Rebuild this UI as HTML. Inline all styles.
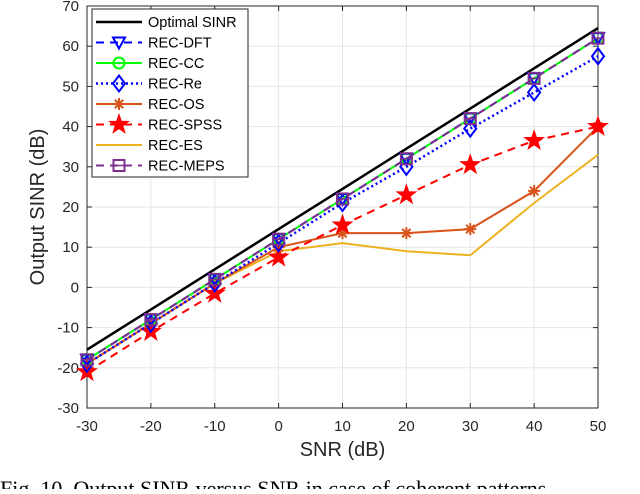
<!DOCTYPE html>
<html><head><meta charset="utf-8"><style>
body{margin:0;background:#fff;width:640px;height:489px;overflow:hidden}
svg{font-family:"Liberation Sans",sans-serif}
</style></head><body>
<svg id="c" width="640" height="489"></svg>
<script>
const xVals=[-30,-20,-10,0,10,20,30,40,50];
const xTicks=[-30,-20,-10,0,10,20,30,40,50];
const yTicks=[-30,-20,-10,0,10,20,30,40,50,60,70];
const optimal=[-15.5,-5.5,4.5,14.5,24.5,34.5,44.5,54.5,64.5];
const recDft=[-18,-8,2,12,22,32,42,52,62];
const recCc=[-18,-8,2,12,22,32,42,52,62];
const recRe=[-19,-9,1,11,21,30,39.5,48.5,57.5];
const recOs=[-19,-9,1,10,13.5,13.5,14.5,24,40];
const recSpss=[-21,-11,-1.5,7.5,15.5,23,30.5,36.5,40];
const recEs=[-19,-9,1,9,11,9,8,21,33];
const recMeps=[-18,-8,2,12,22,32,42,52,62];
const seriesNames=["Optimal SINR","REC-DFT","REC-CC","REC-Re","REC-OS","REC-SPSS","REC-ES","REC-MEPS"];

const L=87,R=598,T=6,B=408;
const sx=v=>L+(v+30)/80*(R-L);
const sy=v=>B-(v+30)/100*(B-T);
const svg=document.getElementById('c');
const NS='http://www.w3.org/2000/svg';
function mk(t,a,p){const e=document.createElementNS(NS,t);for(const k in a)e.setAttribute(k,a[k]);(p||svg).appendChild(e);return e;}

xTicks.forEach(v=>{
 const g=mk('line',{x1:sx(v),x2:sx(v),y1:T,y2:B,stroke:'#e6e6e6'});
 
 const t=mk('text',{x:sx(v),y:B+23,'text-anchor':'middle','font-size':15,fill:'#262626'});t.textContent=v;
 
 mk('line',{x1:sx(v),x2:sx(v),y1:B,y2:B-5,stroke:'#262626'});
 mk('line',{x1:sx(v),x2:sx(v),y1:T,y2:T+5,stroke:'#262626'});
});
yTicks.forEach(v=>{
 const g=mk('line',{x1:L,x2:R,y1:sy(v),y2:sy(v),stroke:'#e6e6e6'});
 
 const t=mk('text',{x:L-8,y:sy(v)+5,'text-anchor':'end','font-size':15,fill:'#262626'});t.textContent=v;
 
 mk('line',{x1:L,x2:L+5,y1:sy(v),y2:sy(v),stroke:'#262626'});
 mk('line',{x1:R,x2:R-5,y1:sy(v),y2:sy(v),stroke:'#262626'});
});
const fr=mk('rect',{x:L,y:T,width:R-L,height:B-T,fill:'none',stroke:'#262626'});


function marker(type,x,y,col,g){
 if(type==='tri')mk('path',{d:`M${x-6},${y-5}L${x+6},${y-5}L${x},${y+6}Z`,fill:'none',stroke:col,'stroke-width':2},g);
 if(type==='circ')mk('circle',{cx:x,cy:y,r:5.5,fill:'none',stroke:col,'stroke-width':2},g);
 if(type==='dia')mk('path',{d:`M${x},${y-8}L${x+6},${y}L${x},${y+8}L${x-6},${y}Z`,fill:'none',stroke:col,'stroke-width':2},g);
 if(type==='ast'){for(let a=0;a<4;a++){const r=a*Math.PI/4,dx=6*Math.cos(r),dy=6*Math.sin(r);mk('line',{x1:x-dx,y1:y-dy,x2:x+dx,y2:y+dy,stroke:col,'stroke-width':2},g);}}
 if(type==='star'){let d='';for(let i=0;i<10;i++){const r=i%2?4:10,a=-Math.PI/2+i*Math.PI/5;d+=(i?'L':'M')+(x+r*Math.cos(a))+','+(y+r*Math.sin(a));}mk('path',{d:d+'Z',fill:col,stroke:col},g);}
 if(type==='sq'){mk('rect',{x:x-5.5,y:y-5.5,width:11,height:11,fill:'none',stroke:col,'stroke-width':2},g);mk('line',{x1:x-5,x2:x+5,y1:y,y2:y,stroke:col,'stroke-width':1.5},g);}
}
const styles=[
 {d:optimal,c:'#000',dash:'',m:null,w:2.5,n:'series-optimal-sinr'},
 {d:recEs,c:'#EDB120',dash:'',m:null,w:2,n:'series-rec-es'},
 {d:recOs,c:'#D95319',dash:'',m:'ast',w:2,n:'series-rec-os'},
 {d:recSpss,c:'#f00',dash:'8,6',m:'star',w:2,n:'series-rec-spss'},
 {d:recRe,c:'#00f',dash:'2,3',m:'dia',w:2.5,n:'series-rec-re'},
 {d:recCc,c:'#0f0',dash:'',m:'circ',w:2,n:'series-rec-cc'},
 {d:recDft,c:'#00f',dash:'8,6',m:'tri',w:2,n:'series-rec-dft'},
 {d:recMeps,c:'#7E2F8E',dash:'8,6',m:'sq',w:2,n:'series-rec-meps'},
];
styles.forEach(s=>{
 const g=mk('g',{});
 
 mk('polyline',{points:s.d.map((v,i)=>sx(xVals[i])+','+sy(v)).join(' '),fill:'none',stroke:s.c,'stroke-width':s.w,'stroke-dasharray':s.dash},g);
 if(s.m)s.d.forEach((v,i)=>marker(s.m,sx(xVals[i]),sy(v),s.c,g));
});

const lg=mk('g',{});

mk('rect',{x:92,y:9,width:156,height:168,fill:'#fff',stroke:'#262626'},lg);
const leg=[
 {c:'#000',dash:'',m:null,w:2.5},{c:'#00f',dash:'8,6',m:'tri',w:2},{c:'#0f0',dash:'',m:'circ',w:2},
 {c:'#00f',dash:'2,3',m:'dia',w:2.5},{c:'#D95319',dash:'',m:'ast',w:2},{c:'#f00',dash:'8,6',m:'star',w:2},
 {c:'#EDB120',dash:'',m:null,w:2},{c:'#7E2F8E',dash:'8,6',m:'sq',w:2}];
leg.forEach((s,i)=>{
 const y=22+i*20.5;
 const e=mk('g',{},lg);
 
 mk('line',{x1:96,x2:142,y1:y,y2:y,stroke:s.c,'stroke-width':s.w,'stroke-dasharray':s.dash},e);
 if(s.m)marker(s.m,119,y,s.c,e);
 const t=mk('text',{x:148,y:y+5,'font-size':14.5,fill:'#000'},e);t.textContent=seriesNames[i];
});

const xl=mk('text',{x:(L+R)/2,y:456,'text-anchor':'middle','font-size':20,fill:'#262626'});xl.textContent='SNR (dB)';

const yl=mk('text',{x:0,y:0,'text-anchor':'middle','font-size':20,fill:'#262626',transform:`translate(44,${(T+B)/2}) rotate(-90)`});yl.textContent='Output SINR (dB)';

const cap=mk('text',{x:0,y:496,'font-size':22,'font-family':'Liberation Serif,serif',fill:'#000'});cap.textContent='Fig. 10. Output SINR versus SNR in case of coherent patterns.';

</script>
</body></html>
